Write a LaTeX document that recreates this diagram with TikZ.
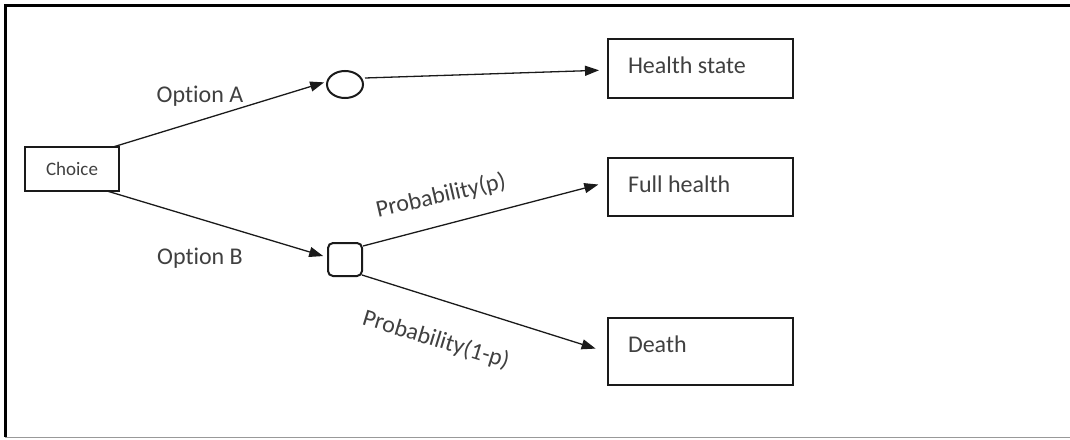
\documentclass[tikz,border=0pt]{standalone}
\usepackage{fontspec}
\setmainfont{Carlito}[Ligatures={NoCommon}]
\usetikzlibrary{arrows.meta,shapes.geometric}
\definecolor{ink}{HTML}{1A1A1A}
\definecolor{txt}{HTML}{404040}
\begin{document}
\begin{tikzpicture}[x=1pt,y=-1pt,
  every node/.style={inner sep=0pt,outer sep=0pt},
  statebox/.style={draw=ink,line width=2pt,rectangle,minimum width=185pt,anchor=north west},
  boxtext/.style={text=txt,font=\fontsize{24}{28}\selectfont,anchor=base west},
  edgetext/.style={text=txt,font=\fontsize{24}{28}\selectfont},
  link/.style={draw=ink,line width=1.3pt,-{Triangle[length=14pt,width=10pt]}}]
\useasboundingbox (0,0) rectangle (1070,439);
% outer frame
\draw[line width=3pt,black] (1072,5.5) -- (5,5.5) -- (5,437);
\draw[line width=1.5pt,black!40] (5,437.5) -- (1072,437.5);
% decision node
\node[draw=ink,line width=1.5pt,rectangle,minimum width=94pt,minimum height=44pt,anchor=north west,
      text=txt,font=\fontsize{19}{22}\selectfont] (choice) at (25,147) {Choice};
% chance nodes
\node[draw=ink,line width=2pt,ellipse,minimum width=36pt,minimum height=27pt] (circ) at (345,84.5) {};
\node[draw=ink,line width=2pt,rectangle,rounded corners=5pt,minimum width=34pt,minimum height=33pt] (sq) at (345,259.5) {};
% outcome boxes
\node[statebox,minimum height=59pt] (hs) at (608,39) {};
\node[statebox,minimum height=58pt] (fh) at (608,158) {};
\node[statebox,minimum height=67pt] (dt) at (608,318) {};
\node[boxtext] (hst) at ([xshift=20pt,yshift=-34pt]hs.north west) {Health state};
\node[boxtext] (fht) at ([xshift=20pt,yshift=-34pt]fh.north west) {Full health};
\node[boxtext] (dtt) at ([xshift=20pt,yshift=-34pt]dt.north west) {Death};
% branches
\draw[link,shorten >=3pt] ([xshift=-6pt]choice.north east) -- ([yshift=3pt]circ.west);
\draw[link,shorten >=5pt] ([xshift=-12pt]choice.south east) -- ([yshift=2pt]sq.west);
\draw[link,shorten >=9pt] ([xshift=2pt,yshift=6.5pt]circ.east) -- ([yshift=-1.5pt]hs.west);
\draw[link,shorten >=10pt] ([xshift=1pt,yshift=-3pt]sq.north east) -- ([yshift=5pt]fh.west);
\draw[link,shorten >=13pt] ([yshift=1pt]sq.south east) -- ([yshift=-1pt]dt.west);
% branch labels
\node[edgetext] (la) at (200,96) {Option A};
\node[edgetext] (lb) at (200,258) {Option B};
\node[edgetext,rotate=13] (lp) at (441,196) {Probability(p)};
\node[edgetext,rotate=-17] (lq) at (436,340) {Probability(1-p)};
\end{tikzpicture}
\end{document}
